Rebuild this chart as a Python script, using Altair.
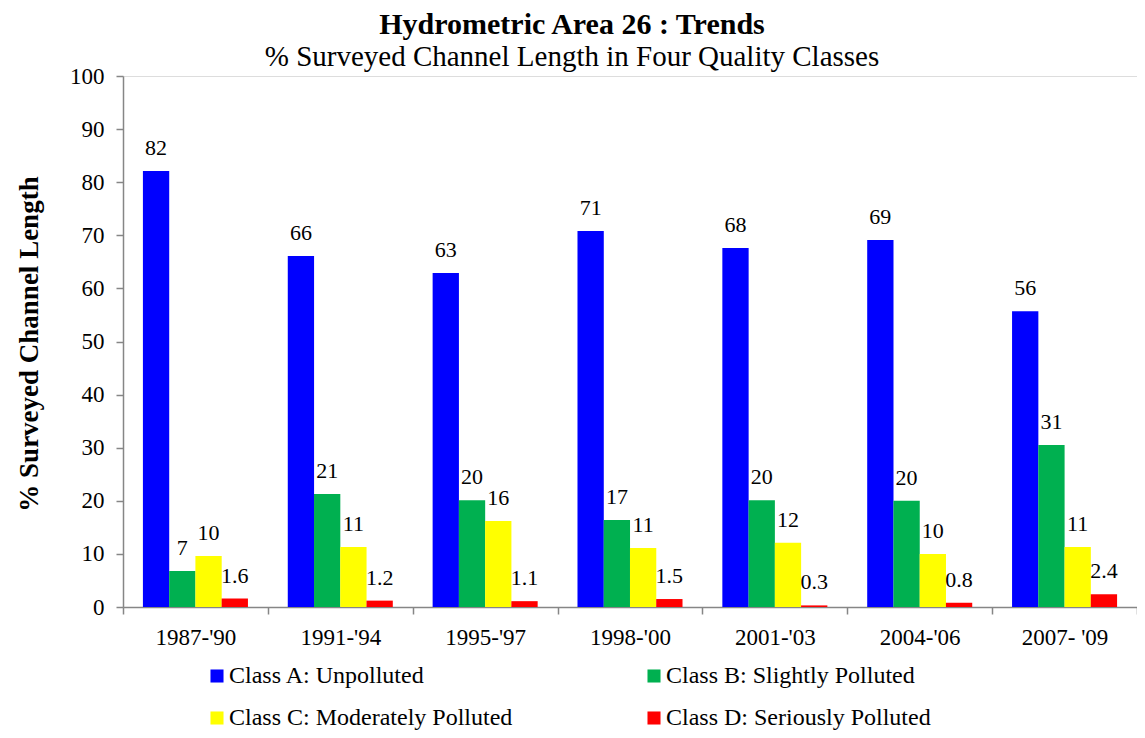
import altair as alt
import pandas as pd

periods = ["1987-'90", "1991-'94", "1995-'97", "1998-'00", "2001-'03", "2004-'06", "2007- '09"]
classes = ["Class A: Unpolluted", "Class B: Slightly Polluted",
           "Class C: Moderately Polluted", "Class D: Seriously Polluted"]
colors = ["#0000FF", "#00B050", "#FFFF00", "#FF0000"]

class_a = [82.1, 66.1, 62.9, 70.8, 67.6, 69.1, 55.7]
class_b = [6.8, 21.3, 20.1, 16.4, 20.1, 20.0, 30.5]
class_c = [9.6, 11.3, 16.2, 11.1, 12.1, 10.0, 11.3]
class_d = [1.6, 1.2, 1.1, 1.5, 0.3, 0.8, 2.4]

label_a = ["82", "66", "63", "71", "68", "69", "56"]
label_b = ["7", "21", "20", "17", "20", "20", "31"]
label_c = ["10", "11", "16", "11", "12", "10", "11"]
label_d = ["1.6", "1.2", "1.1", "1.5", "0.3", "0.8", "2.4"]

rows = []
for cls, vals, labs in zip(classes, [class_a, class_b, class_c, class_d],
                           [label_a, label_b, label_c, label_d]):
    for p, v, l in zip(periods, vals, labs):
        rows.append({"period": p, "cls": cls, "value": v, "label": l})
df = pd.DataFrame(rows)

FONT = "Liberation Serif"
W, H = 1014, 531

x_enc = alt.X("period:N", sort=periods, title=None,
              scale=alt.Scale(paddingInner=0, paddingOuter=0),
              axis=alt.Axis(tickBand="extent", labelAngle=0, labelFontSize=23,
                            labelFont=FONT, labelColor="black", labelPadding=12,
                            domainColor="#868686", tickColor="#868686",
                            tickSize=7, domainWidth=1.5, tickWidth=1.5))
xo_enc = alt.XOffset("cls:N", sort=classes,
                     scale=alt.Scale(paddingOuter=0.76, paddingInner=0))
y_enc = alt.Y("value:Q", title="% Surveyed Channel Length",
              scale=alt.Scale(domain=[0, 100], nice=False),
              axis=alt.Axis(values=list(range(0, 101, 10)), grid=False,
                            labelFontSize=23, labelFont=FONT, labelColor="black",
                            labelPadding=12, tickSize=7,
                            domainColor="#868686", tickColor="#868686",
                            domainWidth=1.5, tickWidth=1.5,
                            titleFont=FONT, titleFontSize=27, titleFontWeight="bold",
                            titleColor="black", titleX=-80, titleY=H / 2 + 2))

color_enc = alt.Color("cls:N", sort=classes,
                      scale=alt.Scale(domain=classes, range=colors),
                      legend=alt.Legend(title=None, orient="none", legendX=82, legendY=588,
                                        columns=2, direction="horizontal",
                                        symbolType="square", symbolSize=170,
                                        symbolStrokeWidth=0, labelFont=FONT,
                                        labelFontSize=24, labelColor="black",
                                        labelOffset=0, labelLimit=500,
                                        columnPadding=129, rowPadding=18))

bars = alt.Chart(df).mark_bar(size=26.3).encode(
    x=x_enc, xOffset=xo_enc, y=y_enc, color=color_enc)

texts = alt.Chart(df).mark_text(baseline="alphabetic", dy=-16, font=FONT,
                                fontSize=22, color="black").encode(
    x=alt.X("period:N", sort=periods), xOffset=alt.XOffset("cls:N", sort=classes),
    y="value:Q", text="label:N")

chart = alt.layer(bars, texts).properties(
    width=W, height=H,
    title=alt.TitleParams(
        text="Hydrometric Area 26 : Trends",
        subtitle="% Surveyed Channel Length in Four Quality Classes",
        font=FONT, fontSize=30, fontWeight="bold", color="black",
        subtitleFont=FONT, subtitleFontSize=29, subtitleColor="black",
        subtitlePadding=3, anchor="middle", frame="group", dx=-58, offset=-7),
    autosize=alt.AutoSizeParams(type="none"),
    padding={"left": 115, "top": 68, "right": 0, "bottom": 123},
).configure_view(stroke=None).configure(background="white")

chart.save("out.html", embed_options={"renderer": "svg", "actions": False})
